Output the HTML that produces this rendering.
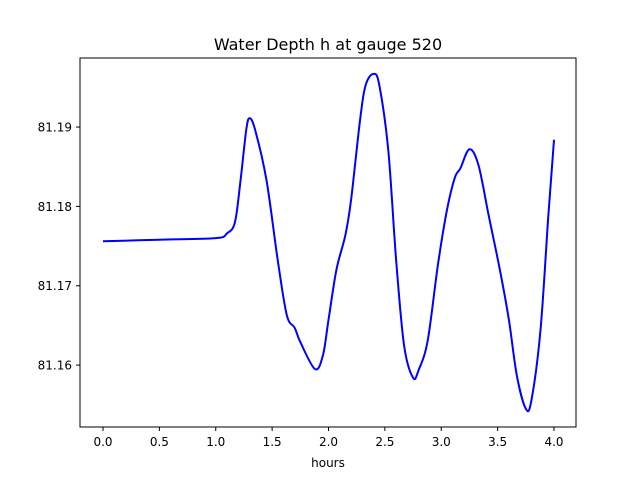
<!DOCTYPE html>
<html><head><meta charset="utf-8"><style>
body{margin:0;background:#fff}
svg{display:block;font-family:"DejaVu Sans","Liberation Sans",sans-serif}
</style></head><body>
<svg id="chart" width="640" height="480">
<rect width="640" height="480" fill="#fff"/>
<text x="328" y="50" font-size="16" text-anchor="middle">Water Depth h at gauge 520</text>
<g id="ticks"></g>
<path id="line" fill="none" stroke="#0000ff" stroke-width="2"/>
<rect x="80" y="58" width="496" height="369" fill="none" stroke="#000" stroke-width="1"/>
<text x="328" y="467" font-size="12" text-anchor="middle">hours</text>
</svg>
<script>
const xTicks=[0,0.5,1,1.5,2,2.5,3,3.5,4];
const xTickLabels=["0.0","0.5","1.0","1.5","2.0","2.5","3.0","3.5","4.0"];
const yTicks=[81.16,81.17,81.18,81.19];
const yTickLabels=["81.16","81.17","81.18","81.19"];
const hours=[0,0.5,1.0,1.1,1.17,1.22,1.27,1.3,1.35,1.45,1.55,1.63,1.7,1.75,1.88,1.95,2.0,2.07,2.15,2.2,2.28,2.33,2.4,2.45,2.53,2.6,2.67,2.75,2.8,2.88,2.97,3.05,3.12,3.17,3.25,3.33,3.42,3.52,3.6,3.67,3.75,3.8,3.88,3.95,4.0];
const depth=[81.1756,81.1758,81.1760,81.1766,81.1780,81.1833,81.1896,81.1911,81.1896,81.1833,81.1732,81.1663,81.1647,81.1629,81.1595,81.1612,81.1657,81.1720,81.1764,81.1808,81.1909,81.1953,81.1967,81.1953,81.1871,81.1732,81.1625,81.1584,81.1594,81.1631,81.1726,81.1795,81.1836,81.1848,81.1872,81.1852,81.1789,81.1720,81.1657,81.1587,81.1545,81.1556,81.1644,81.1789,81.1884];
const X0=80,X1=576,Y0=427,Y1=58,xmin=-0.204,xmax=4.195,ymin=81.1522,ymax=81.1987;
const sx=v=>X0+(v-xmin)/(xmax-xmin)*(X1-X0);
const sy=v=>Y0-(v-ymin)/(ymax-ymin)*(Y0-Y1);
const NS="http://www.w3.org/2000/svg";
const g=document.getElementById('ticks');
function add(tag,attrs,txt){const e=document.createElementNS(NS,tag);for(const k in attrs)e.setAttribute(k,attrs[k]);if(txt!=null)e.textContent=txt;g.appendChild(e);return e;}
xTicks.forEach((t,i)=>{const x=sx(t);
const l=add('line',{x1:x,x2:x,y1:427,y2:431,stroke:'#000'});


const tx=add('text',{x:x,y:446,'font-size':12,'text-anchor':'middle'},xTickLabels[i]);

});
yTicks.forEach((t,i)=>{const y=sy(t);
const l=add('line',{x1:76,x2:80,y1:y,y2:y,stroke:'#000'});


const tx=add('text',{x:72,y:y+4.5,'font-size':12,'text-anchor':'end'},yTickLabels[i]);

});
const P=hours.map((h,i)=>[sx(h),sy(depth[i])]);
let d='M'+P[0][0]+','+P[0][1];
for(let i=0;i<P.length-1;i++){const p0=P[Math.max(0,i-1)],p1=P[i],p2=P[i+1],p3=P[Math.min(P.length-1,i+2)];
d+=' C'+(p1[0]+(p2[0]-p0[0])/6)+','+(p1[1]+(p2[1]-p0[1])/6)+' '+(p2[0]-(p3[0]-p1[0])/6)+','+(p2[1]-(p3[1]-p1[1])/6)+' '+p2[0]+','+p2[1];}
document.getElementById('line').setAttribute('d',d);
</script>
</body></html>
